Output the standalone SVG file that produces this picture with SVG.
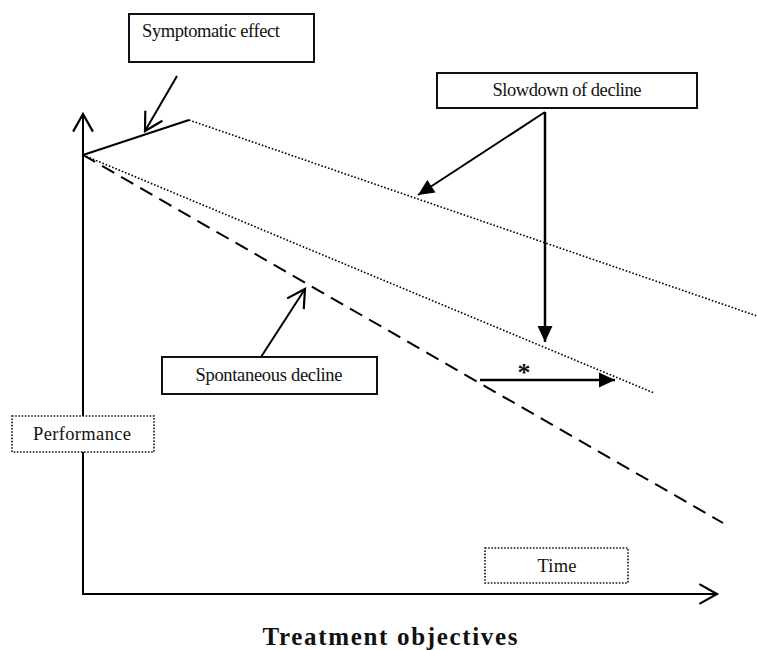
<svg xmlns="http://www.w3.org/2000/svg" width="757" height="650" viewBox="0 0 757 650">
<style>
.t{font-family:"Liberation Serif","Times New Roman",serif;font-size:18.5px;fill:#111}
.box{fill:#fff;stroke:#111;stroke-width:2}
.dbox{fill:#fff;stroke:#111;stroke-width:1.6;stroke-dasharray:1.6 1.6}
.ln{fill:none;stroke:#000;stroke-width:2}
.dot{fill:none;stroke:#000;stroke-width:1.6;stroke-dasharray:1.6 1.9}
.dash{fill:none;stroke:#000;stroke-width:2;stroke-dasharray:14 8}
</style>
<defs>
<marker id="open" markerUnits="userSpaceOnUse" markerWidth="22" markerHeight="22" viewBox="0 0 20 20" refX="18" refY="10" orient="auto" overflow="visible">
<path d="M2,1 L18,10 L2,19" fill="none" stroke="#000" stroke-width="2"/>
</marker>
<marker id="fill" markerUnits="userSpaceOnUse" markerWidth="16" markerHeight="16" viewBox="0 0 16 15" refX="16" refY="7.5" orient="auto" overflow="visible">
<path d="M0,0 L16,7.5 L0,15 Z" fill="#000"/>
</marker>
</defs>
<g id="connectors">
<line id="y-axis" class="ln" x1="83" y1="594" x2="83" y2="114" marker-end="url(#open)"/>
<line id="x-axis" class="ln" x1="82" y1="594" x2="717" y2="594" marker-end="url(#open)"/>
<line id="symptomatic-line" class="ln" x1="83" y1="155" x2="189" y2="120"/>
<line id="treated-line" class="dot" x1="189" y1="120" x2="757" y2="316"/>
<line id="slowed-line" class="dot" x1="83" y1="155" x2="654" y2="393"/>
<line id="spontaneous-line" class="dash" x1="83" y1="155" x2="723" y2="523"/>
<line class="ln" x1="177" y1="76" x2="145" y2="131" marker-end="url(#open)"/>
<line class="ln" x1="545" y1="112" x2="418" y2="195" marker-end="url(#fill)"/>
<line class="ln" x1="545" y1="112" x2="545" y2="342" marker-end="url(#fill)" style="stroke-width:2.5"/>
<line class="ln" x1="261" y1="357" x2="305" y2="289" marker-end="url(#open)"/>
<line class="ln" x1="480" y1="380" x2="615" y2="380" marker-end="url(#fill)" style="stroke-width:2.5"/>
<text class="t" x="524" y="381" text-anchor="middle" style="font-size:26px;font-weight:bold">*</text>
</g>
<g id="symptomatic-effect">
<rect class="box" x="129" y="14" width="185" height="48"/>
<text class="t" x="142" y="37" textLength="138">Symptomatic effect</text>
</g>
<g id="slowdown-of-decline">
<rect class="box" x="437" y="73" width="260" height="35"/>
<text class="t" x="567" y="96" text-anchor="middle" textLength="149">Slowdown of decline</text>
</g>
<g id="spontaneous-decline">
<rect class="box" x="162" y="357" width="215" height="37"/>
<text class="t" x="269" y="381" text-anchor="middle" textLength="147">Spontaneous decline</text>
</g>
<g id="performance">
<rect class="dbox" x="12" y="416" width="142" height="36"/>
<text class="t" x="82" y="440" text-anchor="middle" textLength="98">Performance</text>
</g>
<g id="time">
<rect class="dbox" x="485" y="548" width="143" height="35"/>
<text class="t" x="557" y="572" text-anchor="middle" textLength="39">Time</text>
</g>
<g id="title">
<text class="t" x="390" y="645" text-anchor="middle" textLength="255" style="font-size:25px;font-weight:bold">Treatment objectives</text>
</g>
</svg>
